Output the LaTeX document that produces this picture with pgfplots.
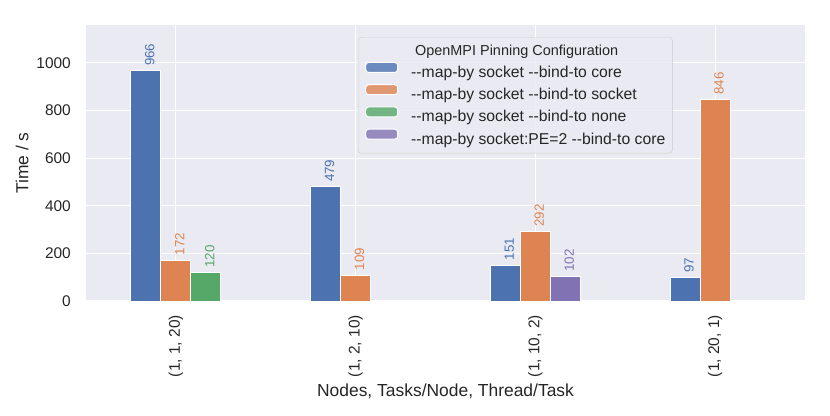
\documentclass[border=0pt]{standalone}
\usepackage{fontspec}
\setmainfont{Liberation Sans}
\usepackage{pgfplots}
\pgfplotsset{compat=1.18}
\definecolor{bgcol}{HTML}{EAEAF2}
\definecolor{c1}{HTML}{4C72B0}
\definecolor{c2}{HTML}{DD8452}
\definecolor{c3}{HTML}{55A868}
\definecolor{c4}{HTML}{8172B3}
\definecolor{legedge}{HTML}{CCCCCC}
\newcommand{\dd}{-{}-}
\pgfplotsset{
  barstyle/.style={ybar, bar width=0.1667, bar shift=0pt, fill=#1, draw=white, line width=1bp,
    nodes near coords,
    every node near coord/.append style={xshift=8.5bp, yshift=4.5bp, rotate=90, anchor=base west,
      inner sep=0pt, text=#1, font=\fontsize{13.4}{16}\selectfont}},
}
\begin{document}
\begin{tikzpicture}[x=1bp,y=1bp]
\useasboundingbox (0,0) rectangle (830,415);
\begin{axis}[
  at={(86bp,114bp)}, anchor=south west,
  width=719bp, height=276bp, scale only axis,
  xmin=-0.5, xmax=3.5, ymin=0, ymax=1159.2,
  axis background/.style={fill=bgcol},
  axis line style={draw=none},
  major tick length=0pt,
  xtick={0,1,2,3},
  xticklabels={{(1, 1, 20)},{(1, 2, 10)},{(1, 10, 2)},{(1, 20, 1)}},
  ytick={0,200,...,1000},
  xmajorgrids, ymajorgrids,
  grid style={white, line width=1.1bp},
  /pgf/number format/assume math mode=true,
  /pgf/number format/1000 sep={},
  ticklabel style={font=\fontsize{15.5}{18}\selectfont, text=black!85},
  xticklabel style={rotate=90, anchor=east, inner xsep=14bp, inner ysep=0pt},
  yticklabel style={anchor=east, inner xsep=15bp, inner ysep=0pt},
  xlabel={Nodes, Tasks/Node, Thread/Task},
  ylabel={Time / s},
  label style={font=\fontsize{17.5}{20}\selectfont, text=black!85},
  xlabel style={at={(axis description cs:0.5,-0.3478)}, anchor=base},
  ylabel style={at={(axis description cs:-0.0803,0.5)}, anchor=base},
  legend style={at={(axis description cs:0.3783,0.9565)}, anchor=north west,
    fill=bgcol, fill opacity=0.8, draw opacity=1, text opacity=1, draw=legedge,
    rounded corners=3bp, inner xsep=7bp, inner ysep=7.5bp, nodes={inner sep=0pt},
    column sep=13bp, row sep=5.3bp,
    font=\fontsize{15.8}{18}\selectfont, text=black!85},
  legend cell align=left,
  legend image code/.code={\fill[#1] (0bp,0bp) rectangle (32bp,10bp);},
]
\addlegendimage{empty legend}
\addlegendentry{\makebox[0pt][l]{\hspace*{-45bp}\makebox[300bp][c]{\fontsize{14.5}{17}\selectfont OpenMPI Pinning Configuration}}\rule[-5.5bp]{0pt}{12bp}}
\addplot[barstyle=c1] coordinates {(-0.1667,966) (0.8333,479) (1.8333,151) (2.8333,97)};
\addlegendentry{\dd map-by socket \dd bind-to core}
\addplot[barstyle=c2] coordinates {(0,172) (1,109) (2,292) (3,846)};
\addlegendentry{\dd map-by socket \dd bind-to socket}
\addplot[barstyle=c3] coordinates {(0.1667,120)};
\addlegendentry{\dd map-by socket \dd bind-to none}
\addplot[barstyle=c4] coordinates {(2.1667,102)};
\addlegendentry{\dd map-by socket:PE=2 \dd bind-to core}
\end{axis}
\end{tikzpicture}
\end{document}
